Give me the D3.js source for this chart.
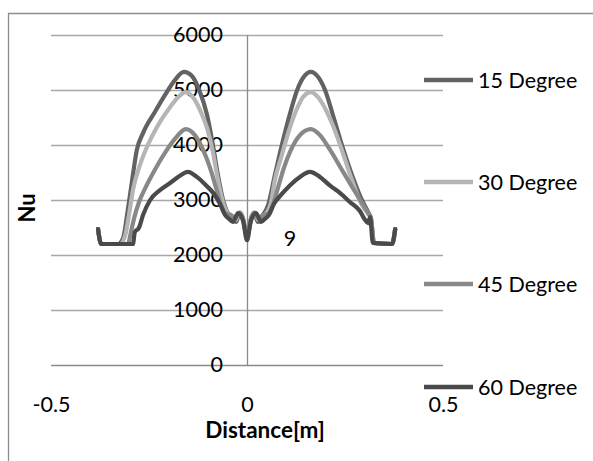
<!DOCTYPE html>
<html>
<head>
<meta charset="utf-8">
<script src="https://cdn.jsdelivr.net/npm/d3@7"></script>
<style>
  body { margin: 0; background: #fff; }
  svg { display: block; font-family: Lato, "Open Sans", sans-serif; }
</style>
</head>
<body>
<div id="chart"></div>
<script>
// Nu along the distance, one array of [distance, Nu] per angle
const deg15 = [
  [-0.380, 2470], [-0.372, 2200], [-0.329, 2200], [-0.316, 2310], [-0.304, 2820],
  [-0.293, 3360], [-0.281, 3910], [-0.265, 4220], [-0.235, 4600], [-0.209, 4910],
  [-0.184, 5180], [-0.161, 5330], [-0.140, 5250], [-0.122, 5000], [-0.102, 4550],
  [-0.087, 4000], [-0.074, 3450], [-0.061, 3000], [-0.048, 2750], [-0.038, 2670],
  [-0.028, 2600], [-0.018, 2760], [-0.010, 2640], [0, 2310], [0.010, 2640],
  [0.018, 2760], [0.028, 2600], [0.038, 2700], [0.054, 2910], [0.071, 3450],
  [0.089, 4000], [0.110, 4580], [0.128, 5000], [0.145, 5240], [0.163, 5330],
  [0.181, 5240], [0.199, 5000], [0.219, 4550], [0.242, 4000], [0.268, 3450],
  [0.293, 3000], [0.309, 2780], [0.316, 2670], [0.324, 2220], [0.370, 2200],
  [0.378, 2470]
];
const deg30 = [
  [-0.380, 2470], [-0.372, 2200], [-0.324, 2200], [-0.311, 2350], [-0.301, 2730],
  [-0.291, 3180], [-0.273, 3640], [-0.253, 4000], [-0.227, 4360], [-0.196, 4690],
  [-0.173, 4890], [-0.156, 4960], [-0.138, 4870], [-0.120, 4640], [-0.102, 4310],
  [-0.087, 3870], [-0.074, 3360], [-0.061, 2950], [-0.048, 2750], [-0.038, 2710],
  [-0.028, 2640], [-0.018, 2780], [-0.010, 2670], [0, 2350], [0.010, 2670],
  [0.018, 2780], [0.028, 2640], [0.038, 2710], [0.048, 2750], [0.061, 2950],
  [0.071, 3360], [0.089, 3820], [0.110, 4330], [0.128, 4670], [0.145, 4890],
  [0.163, 4960], [0.181, 4870], [0.199, 4670], [0.219, 4360], [0.242, 3910],
  [0.268, 3360], [0.293, 2910], [0.309, 2750], [0.316, 2670], [0.324, 2220],
  [0.370, 2200], [0.378, 2470]
];
const deg45 = [
  [-0.380, 2470], [-0.372, 2200], [-0.304, 2200], [-0.296, 2420], [-0.288, 2670],
  [-0.276, 2950], [-0.258, 3240], [-0.235, 3550], [-0.209, 3860], [-0.184, 4110],
  [-0.156, 4290], [-0.133, 4180], [-0.112, 3910], [-0.094, 3580], [-0.079, 3220],
  [-0.066, 2910], [-0.054, 2750], [-0.041, 2730], [-0.031, 2660], [-0.018, 2760],
  [-0.010, 2660], [0, 2350], [0.010, 2660], [0.018, 2760], [0.031, 2660],
  [0.041, 2730], [0.054, 2750], [0.066, 2910], [0.079, 3220], [0.094, 3580],
  [0.112, 3910], [0.135, 4180], [0.163, 4290], [0.186, 4180], [0.212, 3910],
  [0.242, 3550], [0.268, 3240], [0.293, 2950], [0.309, 2760], [0.316, 2670],
  [0.324, 2220], [0.370, 2200], [0.378, 2470]
];
const deg60 = [
  [-0.380, 2470], [-0.372, 2200], [-0.291, 2200], [-0.286, 2420], [-0.276, 2490],
  [-0.265, 2730], [-0.247, 3000], [-0.222, 3180], [-0.196, 3310], [-0.171, 3440],
  [-0.151, 3510], [-0.128, 3420], [-0.105, 3270], [-0.084, 3110], [-0.069, 2930],
  [-0.056, 2730], [-0.046, 2660], [-0.036, 2600], [-0.023, 2760], [-0.010, 2620],
  [0, 2270], [0.010, 2620], [0.023, 2760], [0.036, 2600], [0.046, 2660],
  [0.056, 2730], [0.069, 2930], [0.089, 3110], [0.110, 3270], [0.135, 3420],
  [0.161, 3510], [0.186, 3420], [0.212, 3260], [0.237, 3130], [0.263, 2960],
  [0.288, 2800], [0.301, 2640], [0.309, 2580], [0.314, 2690], [0.321, 2220],
  [0.370, 2200], [0.378, 2470]
];

const seriesNames = ["15 Degree", "30 Degree", "45 Degree", "60 Degree"];
const seriesData = [deg15, deg30, deg45, deg60];
const seriesColors = ["#626262", "#b5b5b5", "#888888", "#4a4a4a"];

const yTicks = [0, 1000, 2000, 3000, 4000, 5000, 6000];
const xTicks = [-0.5, 0, 0.5];

const W = 593, H = 461;

const svg = d3.select("#chart").append("svg")
  .attr("width", W)
  .attr("height", H);

// outer chart border (left and top edges visible)
svg.append("path")
  .attr("d", `M8.5,${H} V13.5 H${W}`)
  .attr("fill", "none")
  .attr("stroke", "#8c8c8c")
  .attr("stroke-width", 1.3);

const x = d3.scaleLinear().domain([-0.5, 0.5]).range([51, 443]);
const y = d3.scaleLinear().domain([0, 6000]).range([365, 35]);

// gridlines
svg.append("g")
  .selectAll("line")
  .data(yTicks)
  .join("line")
  .attr("x1", x(-0.5))
  .attr("x2", x(0.5))
  .attr("y1", d => y(d) + 0.5)
  .attr("y2", d => y(d) + 0.5)
  .attr("stroke", d => d === 0 ? "#8a8a8a" : "#a8a8a8")
  .attr("stroke-width", 1.3);

// vertical axis line at x = 0
svg.append("line")
  .attr("x1", x(0) + 0.5)
  .attr("x2", x(0) + 0.5)
  .attr("y1", y(6000))
  .attr("y2", y(0))
  .attr("stroke", "#8a8a8a")
  .attr("stroke-width", 1.3);

// y tick labels
const yAxis = svg.append("g")
  .attr("transform", `translate(${x(0)},0)`)
  .call(d3.axisLeft(y).tickValues(yTicks).tickSize(0).tickPadding(24).tickFormat(d => String(d)));
yAxis.select(".domain").remove();
yAxis.selectAll("text")
  .attr("font-family", "Lato, sans-serif")
  .attr("font-size", 21.5)
  .attr("fill", "#000");

// x tick labels
const xAxis = svg.append("g")
  .attr("transform", `translate(0,${y(0)})`)
  .call(d3.axisBottom(x).tickValues(xTicks).tickSize(0).tickPadding(32).tickFormat(d => String(d)));
xAxis.select(".domain").remove();
xAxis.selectAll("text")
  .attr("font-family", "Lato, sans-serif")
  .attr("font-size", 21.5)
  .attr("fill", "#000");

// axis titles
svg.append("text")
  .attr("x", 265)
  .attr("y", 438)
  .attr("text-anchor", "middle")
  .attr("font-size", 22.5)
  .attr("font-weight", "bold")
  .text("Distance[m]");

svg.append("text")
  .attr("transform", "translate(35,208) rotate(-90)")
  .attr("text-anchor", "middle")
  .attr("font-size", 22)
  .attr("font-weight", "bold")
  .text("Nu");

// lines
const line = d3.line()
  .x(d => x(d[0]))
  .y(d => y(d[1]))
  .curve(d3.curveMonotoneX);

svg.append("g")
  .selectAll("path")
  .data(seriesData)
  .join("path")
  .attr("d", line)
  .attr("fill", "none")
  .attr("stroke", (d, i) => seriesColors[i])
  .attr("stroke-width", 4.2)
  .attr("stroke-linejoin", "round")
  .attr("stroke-linecap", "round");

// stray data label
svg.append("text")
  .attr("x", 290)
  .attr("y", 246)
  .attr("text-anchor", "middle")
  .attr("font-size", 21.5)
  .text("9");

// legend
const legendY = [80, 182, 284, 387];
const legend = svg.append("g")
  .selectAll("g")
  .data(seriesNames)
  .join("g")
  .attr("transform", (d, i) => `translate(424,${legendY[i]})`);

legend.append("line")
  .attr("x1", 0)
  .attr("x2", 49)
  .attr("stroke", (d, i) => seriesColors[i])
  .attr("stroke-width", 4.5);

legend.append("text")
  .attr("x", 54)
  .attr("dy", "0.35em")
  .attr("font-size", 21.5)
  .text(d => d);
</script>
</body>
</html>
